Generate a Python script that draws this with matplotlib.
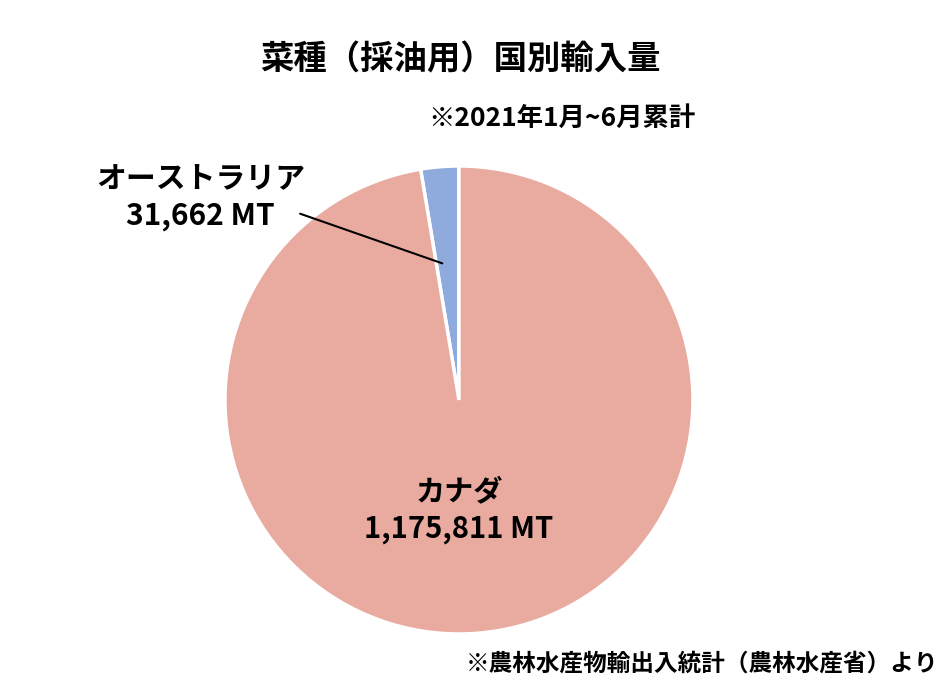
import matplotlib
matplotlib.use('Agg')
import matplotlib.pyplot as plt

plt.rcParams['font.family'] = ['Noto Sans CJK JP', 'DejaVu Sans']

# データ
countries = ['オーストラリア', 'カナダ']
volumes = [31662, 1175811]
colors = ['#8FAADC', '#E9ABA0']

fig = plt.figure(figsize=(9.52, 6.96), dpi=100)
ax = fig.add_axes([0.2363, 0.0891, 0.4916, 0.6724])

# 12時の位置から反時計回り
ax.pie(volumes, colors=colors, startangle=90, counterclock=True,
       wedgeprops=dict(edgecolor='white', linewidth=2.5))
ax.set_xlim(-1, 1)
ax.set_ylim(-1, 1)
ax.set_aspect('equal')

# ラベル
ax.text(0, -0.47, '{}\n{:,} MT'.format(countries[1], volumes[1]),
        ha='center', va='center', fontsize=21, fontweight='bold', linespacing=1.3)
ax.text(-1.104, 0.865, '{}\n{:,} MT'.format(countries[0], volumes[0]),
        ha='center', va='center', fontsize=21.5, fontweight='bold', linespacing=1.3)
ax.annotate('', xy=(-0.06, 0.58), xytext=(-0.69, 0.80),
            arrowprops=dict(arrowstyle='-', color='black', lw=1.5))

fig.text(0.484, 0.914, '菜種（採油用）国別輸入量', ha='center', va='center',
         fontsize=24, fontweight='bold')
fig.text(0.731, 0.830, '※2021年1月~6月累計', ha='right', va='center',
         fontsize=19, fontweight='bold')
fig.text(0.986, 0.047, '※農林水産物輸出入統計（農林水産省）より', ha='right', va='center',
         fontsize=17, fontweight='bold')

fig.savefig('out.png', dpi=100)
